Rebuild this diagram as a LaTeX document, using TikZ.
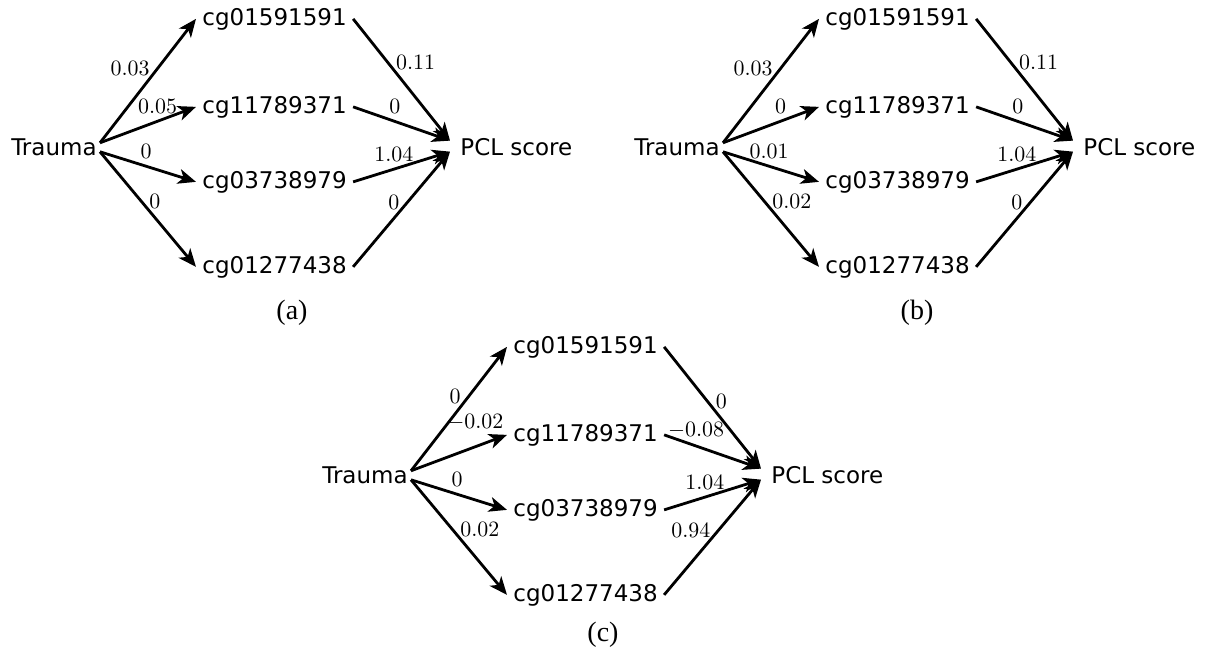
\documentclass[tikz,border=0pt]{standalone}
\usepackage{fontspec}
\newfontfamily\dejavu{DejaVu Sans}
\newfontfamily\capfont{Liberation Serif}
\usepackage{tikz}
\usetikzlibrary{arrows.meta,positioning}

\tikzset{
  var/.style={font=\dejavu\fontsize{11.5}{13}\selectfont, inner ysep=0pt, inner xsep=3pt},
  wt/.style={font=\fontsize{11}{13}\selectfont},
  link/.style={-{Stealth[length=9pt,width=7.5pt,inset=2.5pt]}, line width=1.4pt},
  sub/.style={font=\capfont\fontsize{14}{16}\selectfont}
}

\begin{document}
\begin{tikzpicture}[x=0.5pt,y=-0.5pt]
\useasboundingbox (0,0) rectangle (1209,655);
% (a)
\node[var, anchor=base east, inner xsep=1.5pt] (ta) at (100,155) {Trauma};
\node[var, anchor=base west] (c1a) at (196,25) {cg01591591};
\node[var, anchor=base west] (c2a) at (196,113) {cg11789371};
\node[var, anchor=base west] (c3a) at (196,188) {cg03738979};
\node[var, anchor=base west] (c4a) at (196,273) {cg01277438};
\node[var, anchor=base west, inner xsep=5pt] (pa) at (450,155) {PCL score};
\draw[link] ([yshift=2pt]ta.east) -- node[wt,left,pos=.6]{$0.03$} (c1a.west);
\draw[link] ([yshift=2pt]ta.east) -- node[wt,above,pos=.6]{$0.05$} (c2a.west);
\draw[link] ([yshift=-2.5pt]ta.east) -- node[wt,above,pos=.48]{$0$} (c3a.west);
\draw[link] ([yshift=-2.5pt]ta.east) -- node[wt,right,pos=.43]{$0$} (c4a.west);
\draw[link] (c1a.east) -- node[wt,right,pos=.36]{$0.11$} ([yshift=3pt]pa.west);
\draw[link] (c2a.east) -- node[wt,above,pos=.43]{$0$} ([yshift=3pt]pa.west);
\draw[link] (c3a.east) -- node[wt,above,pos=.42]{$1.04$} ([yshift=-2.5pt]pa.west);
\draw[link] (c4a.east) -- node[wt,left,pos=.56]{$0$} ([yshift=-2.5pt]pa.west);
\node[sub] (capa) at (292,313) {(a)};

% (b)
\begin{scope}[shift={(623,0)}]
\node[var, anchor=base east, inner xsep=1.5pt] (tb) at (100,155) {Trauma};
\node[var, anchor=base west] (c1b) at (196,25) {cg01591591};
\node[var, anchor=base west] (c2b) at (196,113) {cg11789371};
\node[var, anchor=base west] (c3b) at (196,188) {cg03738979};
\node[var, anchor=base west] (c4b) at (196,273) {cg01277438};
\node[var, anchor=base west, inner xsep=5pt] (pb) at (450,155) {PCL score};
\draw[link] ([yshift=2pt]tb.east) -- node[wt,left,pos=.6]{$0.03$} (c1b.west);
\draw[link] ([yshift=2pt]tb.east) -- node[wt,above,pos=.6]{$0$} (c2b.west);
\draw[link] ([yshift=-2.5pt]tb.east) -- node[wt,above,pos=.48]{$0.01$} (c3b.west);
\draw[link] ([yshift=-2.5pt]tb.east) -- node[wt,right,pos=.43]{$0.02$} (c4b.west);
\draw[link] (c1b.east) -- node[wt,right,pos=.36]{$0.11$} ([yshift=3pt]pb.west);
\draw[link] (c2b.east) -- node[wt,above,pos=.43]{$0$} ([yshift=3pt]pb.west);
\draw[link] (c3b.east) -- node[wt,above,pos=.42]{$1.04$} ([yshift=-2.5pt]pb.west);
\draw[link] (c4b.east) -- node[wt,left,pos=.56]{$0$} ([yshift=-2.5pt]pb.west);
\node[sub] (capb) at (294,313) {(b)};
\end{scope}

% (c)
\begin{scope}[shift={(311,328)}]
\node[var, anchor=base east, inner xsep=1.5pt] (tc) at (100,155) {Trauma};
\node[var, anchor=base west] (c1c) at (196,25) {cg01591591};
\node[var, anchor=base west] (c2c) at (196,113) {cg11789371};
\node[var, anchor=base west] (c3c) at (196,188) {cg03738979};
\node[var, anchor=base west] (c4c) at (196,273) {cg01277438};
\node[var, anchor=base west, inner xsep=5pt] (pc) at (450,155) {PCL score};
\draw[link] ([yshift=2pt]tc.east) -- node[wt,left,pos=.6]{$0$} (c1c.west);
\draw[link] ([yshift=2pt]tc.east) -- node[wt,above=4pt,pos=.67]{$-0.02$} (c2c.west);
\draw[link] ([yshift=-2.5pt]tc.east) -- node[wt,above,pos=.48]{$0$} (c3c.west);
\draw[link] ([yshift=-2.5pt]tc.east) -- node[wt,right,pos=.43]{$0.02$} (c4c.west);
\draw[link] (c1c.east) -- node[wt,right,pos=.45]{$0$} ([yshift=3pt]pc.west);
\draw[link] (c2c.east) -- node[wt,above,pos=.33]{$-0.08$} ([yshift=3pt]pc.west);
\draw[link] (c3c.east) -- node[wt,above,pos=.42]{$1.04$} ([yshift=-2.5pt]pc.west);
\draw[link] (c4c.east) -- node[wt,left,pos=.56]{$0.94$} ([yshift=-2.5pt]pc.west);
\node[sub] (capc) at (292,307) {(c)};
\end{scope}
\end{tikzpicture}
\end{document}
